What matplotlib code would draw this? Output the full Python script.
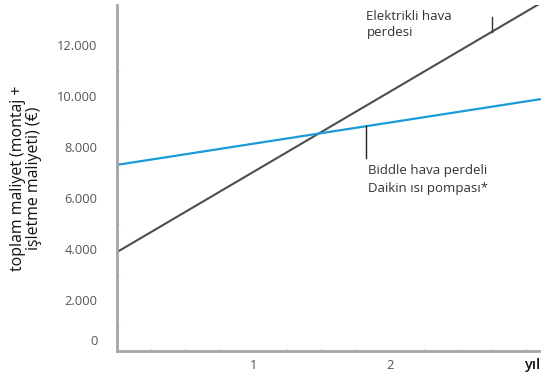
import numpy as np
import matplotlib.pyplot as plt
import matplotlib.transforms as mtransforms

# years shown on the chart (axis runs a bit past year 3)
years = [0, 3.11]
# total cost (installation + operating), EUR
elektrikli = [3880, 13650]
biddle_daikin = [7300, 9880]

yticks = [0, 2000, 4000, 6000, 8000, 10000, 12000]
ytick_labels = ['0', '2.000', '4.000', '6.000', '8.000', '10.000', '12.000']
xticks = [1, 2]
xtick_labels = ['1', '2']

plt.rcParams['font.family'] = ['Open Sans', 'DejaVu Sans']

fig = plt.figure(figsize=(5.41, 3.80), dpi=100)
ax = fig.add_axes([0.216, 0.076, 0.784, 0.911])

ax.plot(years, elektrikli, color='#4d4d4d', lw=1.5, solid_capstyle='butt')
ax.plot(years, biddle_daikin, color='#1a9bd7', lw=1.6, solid_capstyle='butt')

ax.set_xlim(0, 3.11)
ax.set_ylim(0, 13570)

for s in ['top', 'right']:
    ax.spines[s].set_visible(False)
for s in ['left', 'bottom']:
    ax.spines[s].set_color('#a6a6a6')
    ax.spines[s].set_linewidth(2)

ax.set_yticks(yticks, ytick_labels)
ax.set_xticks(xticks, xtick_labels)
ax.set_yticks(np.arange(1000, 13000, 2000), minor=True)
ax.set_xticks(np.arange(0.25, 3.1, 0.25), minor=True)
ax.tick_params(axis='both', which='major', length=0, labelsize=9.3, labelcolor='#555555')
ax.tick_params(axis='y', which='major', pad=14)
ax.tick_params(axis='x', which='major', pad=6)
ax.tick_params(axis='both', which='minor', length=2, width=1, color='#e2e2e2', direction='in')

# lift the "0" label off the bottom axis
lbl0 = ax.get_yticklabels()[0]
lbl0.set_transform(lbl0.get_transform() + mtransforms.ScaledTranslation(0, 11 / 100, fig.dpi_scale_trans))

ax.set_ylabel('toplam maliyet (montaj +\nişletme maliyeti) (€)', fontsize=11.4,
              color='#111111', linespacing=1.0, labelpad=11)

fig.text(0.999, 0.04, 'yıl', fontsize=10.5, color='#111111', ha='right', va='center',
         fontweight='semibold')

# callout ticks and labels
x_el = 2.75
y_el = np.interp(x_el, years, elektrikli)
ax.plot([x_el, x_el], [y_el, y_el + 560], color='#333333', lw=1)
ax.text(1.83, 13380, 'Elektrikli hava\nperdesi', fontsize=9.5, color='#333333',
        va='top', ha='left', linespacing=1.35)

x_bd = 1.83
y_bd = np.interp(x_bd, years, biddle_daikin)
ax.plot([x_bd, x_bd], [y_bd, y_bd - 1230], color='#222222', lw=1)
ax.text(1.84, 7330, 'Biddle hava perdeli\nDaikin ısı pompası*', fontsize=9.5,
        color='#333333', va='top', ha='left', linespacing=1.45)

fig.savefig('out.png', dpi=100)
